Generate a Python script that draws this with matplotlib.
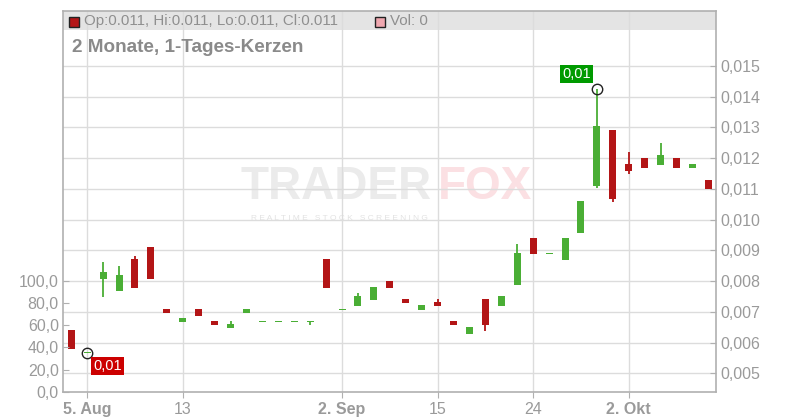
import matplotlib
matplotlib.use("Agg")
import matplotlib.pyplot as plt
from matplotlib.patches import Rectangle
from matplotlib.ticker import FixedLocator, FuncFormatter

plt.rcParams['font.family'] = ['Liberation Sans', 'DejaVu Sans']

# ---- data (one candle per trading day with trades) ----
opens = [0.00641, 0.00567, 0.00808, 0.00769, 0.00872, 0.00911, 0.00709, 0.00668,
         0.00709, 0.00670, 0.00648, 0.00697, 0.00669, 0.00669, 0.00669, 0.00669,
         0.00872, 0.00708, 0.00720, 0.00740, 0.00800, 0.00742, 0.00707, 0.00732,
         0.00670, 0.00629, 0.00742, 0.00720, 0.00788, 0.00940, 0.00890, 0.00870,
         0.00958, 0.01110, 0.01292, 0.01181, 0.01201, 0.01178, 0.01201, 0.01169,
         0.01129]
highs = [0.00641, 0.00567, 0.00862, 0.00849, 0.00882, 0.00911, 0.00709, 0.00680,
         0.00709, 0.00670, 0.00670, 0.00709, 0.00669, 0.00669, 0.00669, 0.00669,
         0.00872, 0.00708, 0.00761, 0.00781, 0.00800, 0.00742, 0.00722, 0.00742,
         0.00670, 0.00651, 0.00742, 0.00752, 0.00921, 0.00940, 0.00890, 0.00940,
         0.01061, 0.01424, 0.01292, 0.01220, 0.01201, 0.01249, 0.01201, 0.01181,
         0.01129]
lows = [0.00580, 0.00567, 0.00749, 0.00769, 0.00779, 0.00808, 0.00697, 0.00668,
        0.00687, 0.00658, 0.00648, 0.00697, 0.00669, 0.00669, 0.00669, 0.00658,
        0.00779, 0.00708, 0.00720, 0.00740, 0.00779, 0.00730, 0.00707, 0.00720,
        0.00658, 0.00629, 0.00639, 0.00720, 0.00788, 0.00889, 0.00890, 0.00870,
        0.00958, 0.01104, 0.01058, 0.01150, 0.01169, 0.01178, 0.01169, 0.01169,
        0.01101]
closes = [0.00580, 0.00567, 0.00829, 0.00820, 0.00779, 0.00808, 0.00697, 0.00680,
          0.00687, 0.00658, 0.00660, 0.00709, 0.00669, 0.00669, 0.00669, 0.00669,
          0.00779, 0.00708, 0.00752, 0.00781, 0.00779, 0.00730, 0.00722, 0.00720,
          0.00658, 0.00651, 0.00658, 0.00752, 0.00892, 0.00889, 0.00890, 0.00940,
          0.01061, 0.01305, 0.01068, 0.01159, 0.01169, 0.01210, 0.01169, 0.01181,
          0.01101]
volumes = [0] * 41

date_tick_idx = [1, 7, 17, 23, 29, 35]
date_tick_labels = ["5. Aug", "13", "2. Sep", "15", "24", "2. Okt"]
date_tick_bold = [True, False, True, False, False, True]

price_ticks = [0.005, 0.006, 0.007, 0.008, 0.009, 0.010, 0.011, 0.012, 0.013, 0.014, 0.015]
vol_ticks = [0, 20, 40, 60, 80, 100]

header_text = "Op:0.011, Hi:0.011, Lo:0.011, Cl:0.011"
vol_text = "Vol: 0"
title_text = "2 Monate, 1-Tages-Kerzen"
min_label = "0,01"
max_label = "0,01"

# ---- styling ----
GREEN = "#4aae35"
RED = "#b31516"
GRID = "#dcdcdc"
AXC = "#b0b0b0"
TXT = "#9a9a9a"

fig = plt.figure(figsize=(8, 4.2), dpi=100)
fig.patch.set_facecolor("white")
L, R, B, T = 63, 716, 392, 11
ax = fig.add_axes([L / 800, (420 - B) / 420, (R - L) / 800, (B - T) / 420])
ax.set_facecolor("white")
axv = ax.twinx()

n = len(opens)
xs = list(range(n))
ax.set_xlim(-0.52, 40.48)
ax.set_ylim(0.004391, 0.016790)

# grid
for p in price_ticks:
    ax.axhline(p, color=GRID, lw=1, zorder=1)
for xi in date_tick_idx:
    ax.axvline(xi, color=GRID, lw=1, zorder=1)

# header band
ax.add_patch(Rectangle((0, (B - 30) / (B - T)), 1, 1 - (B - 30) / (B - T),
                       transform=ax.transAxes, facecolor="#e4e4e4",
                       edgecolor="none", zorder=0.5))

# watermark
ax.text(0.272, 0.538, "TRADER", transform=ax.transAxes, fontsize=33,
        fontweight="bold", color="#ebebeb", ha="left", va="center", zorder=0.8)
ax.text(0.574, 0.538, "FOX", transform=ax.transAxes, fontsize=33,
        fontweight="bold", color="#fbe0e3", ha="left", va="center", zorder=0.8)
ax.text(0.288, 0.455, "R E A L T I M E   S T O C K   S C R E E N I N G",
        transform=ax.transAxes, fontsize=6, color="#e2e2e2",
        ha="left", va="center", zorder=0.8)

# candles
flat_h = 0.00005
for i in xs:
    o, h, l, c = opens[i], highs[i], lows[i], closes[i]
    col = GREEN if c >= o else RED
    ax.vlines(i, l, h, color=col, lw=1.3, zorder=3)
    lo_b = min(o, c)
    hgt = abs(c - o)
    if hgt < flat_h:
        lo_b = o - flat_h / 2
        hgt = flat_h
    ax.bar(i, hgt, bottom=lo_b, width=0.44, color=col, zorder=4, linewidth=0)

# min / max markers
imax = max(xs, key=lambda k: highs[k])
imin = min(xs, key=lambda k: lows[k])
ax.plot([imax], [highs[imax]], marker="o", ms=7.5, mfc="none", mec="#222222",
        mew=1, zorder=6)
ax.plot([imin], [lows[imin]], marker="o", ms=7.5, mfc="none", mec="#222222",
        mew=1, zorder=6)
ax.annotate(max_label, (imax, highs[imax]), xytext=(-14.5, 11),
            textcoords="offset points", ha="center", va="center", color="white",
            fontsize=10.5, zorder=7,
            bbox=dict(boxstyle="square,pad=0.15", fc="#009a00", ec="none"))
ax.annotate(min_label, (imin, lows[imin]), xytext=(14.5, -9.8),
            textcoords="offset points", ha="center", va="center", color="white",
            fontsize=10.5, zorder=7,
            bbox=dict(boxstyle="square,pad=0.15", fc="#cc0000", ec="none"))

# right price axis
ax.yaxis.set_label_position("right")
ax.tick_params(axis="y", which="both", left=False, labelleft=False,
               right=True, labelright=True)
ax.yaxis.set_major_locator(FixedLocator(price_ticks))
ax.yaxis.set_major_formatter(FuncFormatter(lambda v, p: f"{v:.3f}".replace(".", ",")))
ax.tick_params(axis="y", direction="in", length=4, color=AXC, labelcolor=TXT,
               labelsize=11.5, pad=3)

# x axis
ax.xaxis.set_major_locator(FixedLocator(date_tick_idx))
ax.set_xticklabels(date_tick_labels)
for lab, bold in zip(ax.get_xticklabels(), date_tick_bold):
    lab.set_fontweight("bold" if bold else "normal")
ax.tick_params(axis="x", direction="out", length=4, color=AXC, labelcolor=TXT,
               labelsize=11.5, pad=3)

for s in ax.spines.values():
    s.set_color(AXC)
    s.set_linewidth(1.2)

# left volume axis
axv.set_ylim(0, 342.3)
axv.bar(xs, volumes, width=0.44, color="#f0a8b0", zorder=2)
axv.yaxis.set_label_position("left")
axv.tick_params(axis="y", which="both", left=True, labelleft=True,
                right=False, labelright=False)
axv.yaxis.set_major_locator(FixedLocator(vol_ticks))
axv.yaxis.set_major_formatter(FuncFormatter(lambda v, p: f"{v:.1f}".replace(".", ",")))
axv.tick_params(axis="y", direction="in", length=4, color=AXC, labelcolor=TXT,
                labelsize=11.5, pad=3)
for s in axv.spines.values():
    s.set_visible(False)

# header contents
def fx(px):
    return px / 800
def fy(py):
    return 1 - py / 420

fig.patches.append(Rectangle((fx(69), fy(27)), 10 / 800, 10 / 420,
                             transform=fig.transFigure, fc=RED, ec="#222222",
                             lw=1, zorder=10))
fig.text(fx(84), fy(21), header_text, color="#8f8f8f", fontsize=10.9,
         ha="left", va="center", zorder=10)
fig.patches.append(Rectangle((fx(375), fy(27)), 10 / 800, 10 / 420,
                             transform=fig.transFigure, fc="#f0a8b0", ec="#222222",
                             lw=1, zorder=10))
fig.text(fx(389.5), fy(21), vol_text, color="#8f8f8f", fontsize=10.9,
         ha="left", va="center", zorder=10)
fig.text(fx(72), fy(47.5), title_text, color="#8a8a8a", fontsize=13.6,
         fontweight="bold", ha="left", va="center", zorder=10)

fig.savefig("out.png", dpi=100)
